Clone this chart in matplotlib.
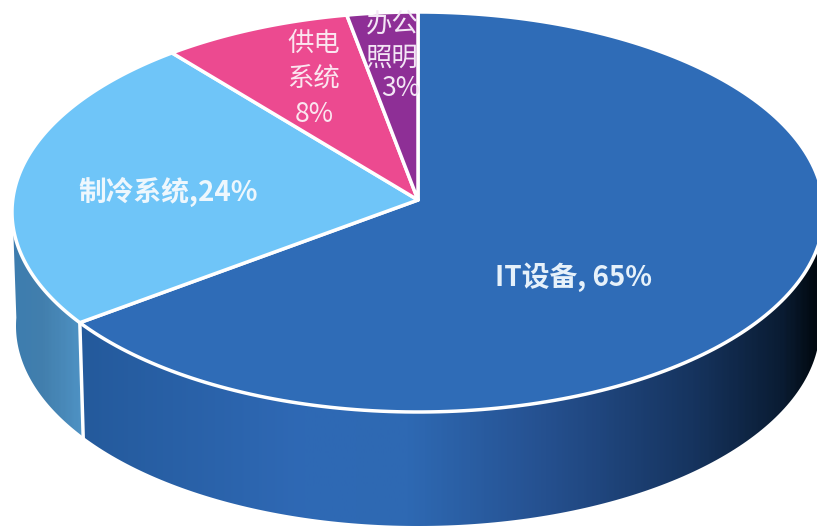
import numpy as np
import matplotlib
matplotlib.use('Agg')
import matplotlib.pyplot as plt
from matplotlib.colors import LinearSegmentedColormap
from matplotlib.patches import Polygon

plt.rcParams['font.family'] = ['Noto Sans CJK SC', 'DejaVu Sans']

# Data
categories = ['IT设备', '制冷系统', '供电系统', '办公照明']
shares = [65, 24, 8, 3]
top_colors = ['#2f6cb7', '#6fc5f8', '#ec4a90', '#8e2f96']

# Pie geometry in picture pixels
cx, rx = 418, 406
top_cy, top_ry = 212, 200
apex_y = 200
bot_rx, bot_cy, bot_ry = 402, 326, 200


def warp(theta):
    # small correction for the perspective of the 3D view
    return theta + np.interp(theta, [0, 234, 320.4, 349.2, 360], [0, 2.4, 2.3, 0.7, 0])


def top_xy(theta):
    t = np.radians(warp(theta))
    return cx + rx * np.sin(t), top_cy - top_ry * np.cos(t)


def bot_xy(theta):
    t = np.radians(warp(theta))
    return cx + bot_rx * np.sin(t), bot_cy - bot_ry * np.cos(t)


fig = plt.figure(figsize=(8.17, 5.26), dpi=100)
ax = fig.add_axes([0, 0, 1, 1])
ax.set_xlim(0, 817)
ax.set_ylim(526, 0)
ax.axis('off')

edges = np.concatenate([[0], np.cumsum(shares)]) / sum(shares) * 360

# Side walls, only the front half is visible
it_cmap = LinearSegmentedColormap.from_list('it', [
    (0.00, '#245a9c'), (0.10, '#245a9c'), (0.37, '#2f69b5'), (0.50, '#2e69b3'),
    (0.67, '#25508f'), (0.85, '#16345f'), (0.96, '#0a1c33'), (1.00, '#020a12')])
cool_cmap = LinearSegmentedColormap.from_list('cool', [
    (0.00, '#3b7cb0'), (0.05, '#427fad'), (0.10, '#4f93c5'), (1.00, '#4f93c5')])
grad = np.linspace(0, 1, 400).reshape(1, -1)

for i, cmap in enumerate([it_cmap, cool_cmap]):
    a1 = max(edges[i], 90)
    a2 = min(edges[i + 1], 270)
    th = np.linspace(a1, a2, 150)
    xt, yt = top_xy(th)
    xb, yb = bot_xy(th)
    pts = np.column_stack([np.r_[xt, xb[::-1]], np.r_[yt, yb[::-1]]])
    wall = Polygon(pts, closed=True, facecolor='none', edgecolor='none')
    ax.add_patch(wall)
    im = ax.imshow(grad, extent=[0, 817, 526, 0], aspect='auto', cmap=cmap, zorder=1)
    im.set_clip_path(wall)

ax.set_xlim(0, 817)
ax.set_ylim(526, 0)

# White divider on the wall
xa, ya = top_xy(edges[1])
xb, yb = bot_xy(edges[1])
ax.plot([xa, xb], [ya, yb], color='white', lw=2.5, zorder=2)

# Top face
for i, color in enumerate(top_colors):
    th = np.linspace(edges[i], edges[i + 1], 200)
    x, y = top_xy(th)
    pts = np.column_stack([np.r_[cx, x], np.r_[apex_y, y]])
    ax.add_patch(Polygon(pts, closed=True, facecolor=color, edgecolor='white',
                         lw=2.5, joinstyle='round', zorder=3))

# Labels
ax.text(574, 277, 'IT设备, 65%', color='#e6f1fa', fontsize=20, fontweight='bold',
        ha='center', va='center', zorder=5)
ax.text(168, 192, '制冷系统,24%', color='#eef7fd', fontsize=20, fontweight='bold',
        ha='center', va='center', zorder=5)
ax.text(314, 79, '供电\n系统\n8%', color='#fbe6f0', fontsize=19, ha='center', va='center',
        linespacing=1.39, zorder=5)
ax.text(392, 41, '办公\n照明', color='#f3e6f5', fontsize=19, ha='center', va='center',
        linespacing=1.31, zorder=5)
ax.text(401, 88, '3%', color='#f3e6f5', fontsize=19, ha='center', va='center', zorder=5)

fig.savefig('out.png', dpi=100)
